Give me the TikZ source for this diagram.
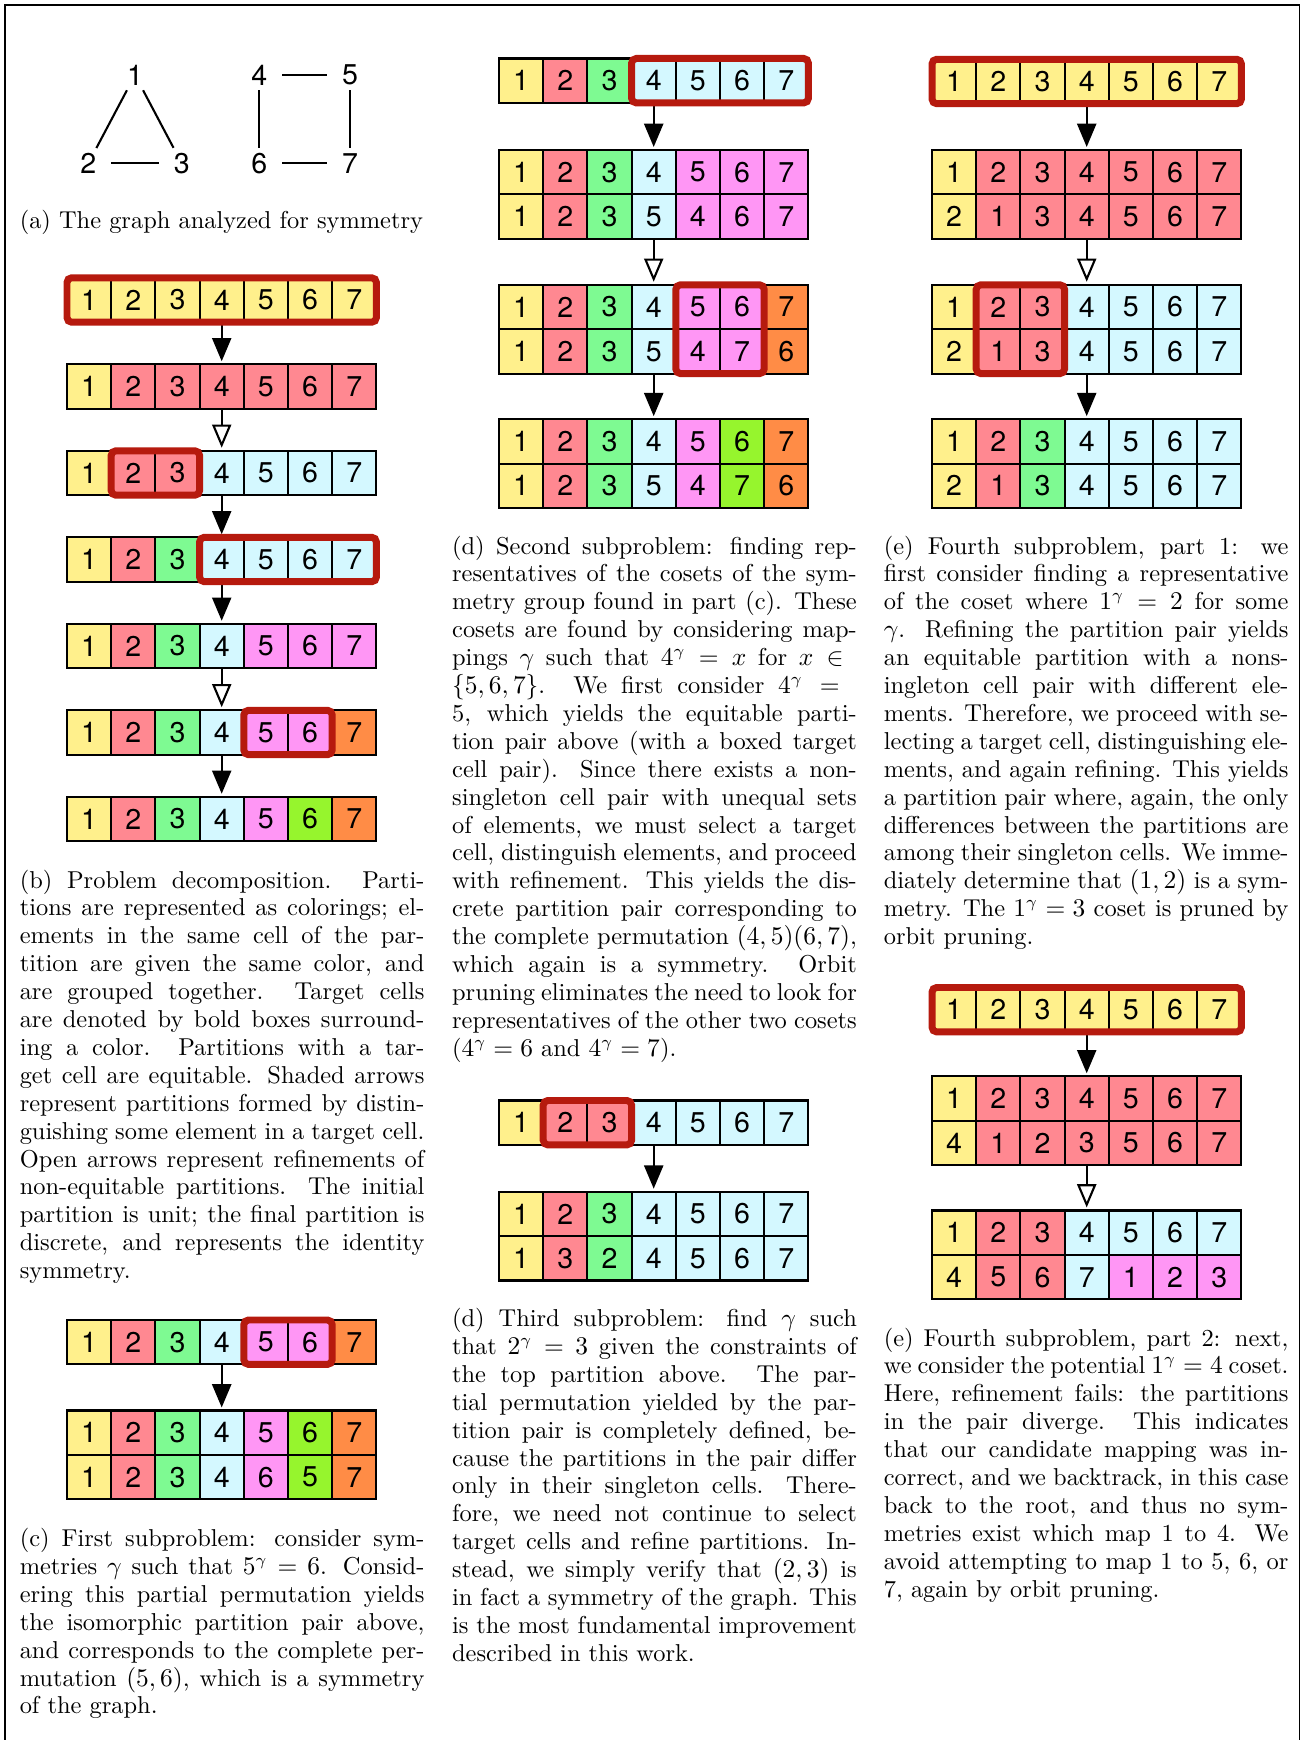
\documentclass[tikz,border=0pt]{standalone}
\usepackage{fontspec}
\newfontfamily\cellfont{TeX Gyre Heros}
\usetikzlibrary{arrows.meta,calc}
\definecolor{CellY}{RGB}{255,240,140}
\definecolor{CellR}{RGB}{255,136,145}
\definecolor{CellG}{RGB}{126,250,146}
\definecolor{CellC}{RGB}{212,248,255}
\definecolor{CellP}{RGB}{255,150,245}
\definecolor{CellL}{RGB}{150,245,45}
\definecolor{CellO}{RGB}{255,140,70}
\definecolor{TargetRed}{RGB}{182,26,14}
\tikzset{
  pcell/.style={draw,line width=0.9pt,minimum width=19pt,minimum height=19.1pt,
    inner sep=0pt,outer sep=0pt,font=\cellfont\fontsize{12.3}{12.3}\selectfont},
  vert/.style={inner xsep=6.5pt,inner ysep=2.2pt,outer sep=0pt,
    font=\cellfont\fontsize{12.3}{12.3}\selectfont},
  gedge/.style={line width=0.9pt},
  distflow/.style={-{Triangle[length=10pt,width=8.2pt]},line width=0.9pt,shorten >=1.3pt},
  refflow/.style={-{Triangle[open,length=10pt,width=8.2pt]},line width=0.9pt,shorten >=1.3pt},
  redframe/.style={draw=TargetRed,line width=3pt,rounded corners=2pt},
  capt/.style={anchor=base west,text width=174pt,align=justify,inner sep=0pt,
    font=\fontsize{10.5}{12}\selectfont}
}
% one partition row: name, left x, top y, colour/label list
\newcommand{\cellrow}[4]{%
  \foreach [count=\i] \col/\lab in {#4}
    \node[pcell,fill=Cell\col] (#1-\i) at ({#2+(\i-0.5)*44.2},{#3+22.2}) {\lab};
}
\newcommand{\boxcells}[2]{\draw[redframe] (#1.north west) rectangle (#2.south east);}

\begin{document}
\begin{tikzpicture}[x=0.43pt,y=-0.43pt]
  \useasboundingbox (0,0) rectangle (1303,1740);
  \draw[line width=0.5pt] (5,1740) -- (5,5) -- (1299.5,5) -- (1299.5,1740);

  \node[vert] (v1) at (135,75) {1};
  \node[vert] (v2) at (88.3,163.3) {2};
  \node[vert] (v3) at (181.7,163.3) {3};
  \node[vert] (v4) at (259.3,75) {4};
  \node[vert] (v5) at (350,75) {5};
  \node[vert] (v6) at (259.3,163.3) {6};
  \node[vert] (v7) at (350,163.3) {7};
  \draw[gedge] (v1) -- (v2);
  \draw[gedge] (v1) -- (v3);
  \draw[gedge] (v2) -- (v3);
  \draw[gedge] (v4) -- (v5);
  \draw[gedge] (v4) -- (v6);
  \draw[gedge] (v5) -- (v7);
  \draw[gedge] (v6) -- (v7);
  \node[capt] (capa) at (19.3,229) {(a) The graph analyzed for symmetry};

  \cellrow{dec1}{67}{277.8}{Y/1,Y/2,Y/3,Y/4,Y/5,Y/6,Y/7}
  \cellrow{dec2}{67}{364.3}{Y/1,R/2,R/3,R/4,R/5,R/6,R/7}
  \cellrow{dec3}{67}{450.8}{Y/1,R/2,R/3,C/4,C/5,C/6,C/7}
  \cellrow{dec4}{67}{537.3}{Y/1,R/2,G/3,C/4,C/5,C/6,C/7}
  \cellrow{dec5}{67}{623.8}{Y/1,R/2,G/3,C/4,P/5,P/6,P/7}
  \cellrow{dec6}{67}{710.3}{Y/1,R/2,G/3,C/4,P/5,P/6,O/7}
  \cellrow{dec7}{67}{796.8}{Y/1,R/2,G/3,C/4,P/5,L/6,O/7}
  \draw[distflow] (dec1-4) -- (dec2-4);
  \draw[refflow] (dec2-4) -- (dec3-4);
  \draw[distflow] (dec3-4) -- (dec4-4);
  \draw[distflow] (dec4-4) -- (dec5-4);
  \draw[refflow] (dec5-4) -- (dec6-4);
  \draw[distflow] (dec6-4) -- (dec7-4);
  \boxcells{dec1-1}{dec1-7}
  \boxcells{dec3-2}{dec3-3}
  \boxcells{dec4-4}{dec4-7}
  \boxcells{dec6-5}{dec6-6}
  \node[capt] (capb) at (19.3,888) {(b) Problem decomposition. Parti-\linebreak tions are represented as colorings; el-\linebreak ements in the same cell of the par-\linebreak tition are given the same color, and\linebreak are grouped together. Target cells\linebreak are denoted by bold boxes surround-\linebreak ing a color. Partitions with a tar-\linebreak get cell are equitable. Shaded arrows\linebreak represent partitions formed by distin-\linebreak guishing some element in a target cell.\linebreak Open arrows represent refinements of\linebreak non-equitable partitions. The initial\linebreak partition is unit; the final partition is\linebreak discrete, and represents the identity\linebreak symmetry.};

  \cellrow{fst1}{67}{1320}{Y/1,R/2,G/3,C/4,P/5,P/6,O/7}
  \cellrow{fst2a}{67}{1410.5}{Y/1,R/2,G/3,C/4,P/5,L/6,O/7}
  \cellrow{fst2b}{67}{1454.9}{Y/1,R/2,G/3,C/4,P/6,L/5,O/7}
  \draw[distflow] (fst1-4) -- (fst2a-4);
  \boxcells{fst1-5}{fst1-6}
  \node[capt] (capc) at (19.3,1546.5) {(c) First subproblem: consider sym-\linebreak metries $\gamma$ such that $5^\gamma = 6$. Consid-\linebreak ering this partial permutation yields\linebreak the isomorphic partition pair above,\linebreak and corresponds to the complete per-\linebreak mutation $(5,6)$, which is a symmetry\linebreak of the graph.};

  \cellrow{snd1}{499}{58.5}{Y/1,R/2,G/3,C/4,C/5,C/6,C/7}
  \cellrow{snd2a}{499}{150}{Y/1,R/2,G/3,C/4,P/5,P/6,P/7}
  \cellrow{snd2b}{499}{194.4}{Y/1,R/2,G/3,C/5,P/4,P/6,P/7}
  \cellrow{snd3a}{499}{284.8}{Y/1,R/2,G/3,C/4,P/5,P/6,O/7}
  \cellrow{snd3b}{499}{329.2}{Y/1,R/2,G/3,C/5,P/4,P/7,O/6}
  \cellrow{snd4a}{499}{419.2}{Y/1,R/2,G/3,C/4,P/5,L/6,O/7}
  \cellrow{snd4b}{499}{463.6}{Y/1,R/2,G/3,C/5,P/4,L/7,O/6}
  \draw[distflow] (snd1-4) -- (snd2a-4);
  \draw[refflow] (snd2b-4) -- (snd3a-4);
  \draw[distflow] (snd3b-4) -- (snd4a-4);
  \boxcells{snd1-4}{snd1-7}
  \boxcells{snd3a-5}{snd3b-6}
  \node[capt] (capd) at (451.7,554) {(d) Second subproblem: finding rep-\linebreak resentatives of the cosets of the sym-\linebreak metry group found in part (c). These\linebreak cosets are found by considering map-\linebreak pings $\gamma$ such that $4^\gamma = x$ for $x \in{}$\linebreak $\{5,6,7\}$. We first consider $4^\gamma ={}$\linebreak 5, which yields the equitable parti-\linebreak tion pair above (with a boxed target\linebreak cell pair). Since there exists a non-\linebreak singleton cell pair with unequal sets\linebreak of elements, we must select a target\linebreak cell, distinguish elements, and proceed\linebreak with refinement. This yields the dis-\linebreak crete partition pair corresponding to\linebreak the complete permutation $(4,5)(6,7)$,\linebreak which again is a symmetry. Orbit\linebreak pruning eliminates the need to look for\linebreak representatives of the other two cosets\linebreak ($4^\gamma = 6$ and $4^\gamma = 7$).};

  \cellrow{thd1}{499}{1100.5}{Y/1,R/2,R/3,C/4,C/5,C/6,C/7}
  \cellrow{thd2a}{499}{1191.7}{Y/1,R/2,G/3,C/4,C/5,C/6,C/7}
  \cellrow{thd2b}{499}{1236.1}{Y/1,R/3,G/2,C/4,C/5,C/6,C/7}
  \draw[distflow] (thd1-4) -- (thd2a-4);
  \boxcells{thd1-2}{thd1-3}
  \node[capt] (capt3) at (451.7,1326.5) {(d) Third subproblem: find $\gamma$ such\linebreak that $2^\gamma = 3$ given the constraints of\linebreak the top partition above. The par-\linebreak tial permutation yielded by the par-\linebreak tition pair is completely defined, be-\linebreak cause the partitions in the pair differ\linebreak only in their singleton cells. There-\linebreak fore, we need not continue to select\linebreak target cells and refine partitions. In-\linebreak stead, we simply verify that $(2,3)$ is\linebreak in fact a symmetry of the graph. This\linebreak is the most fundamental improvement\linebreak described in this work.};

  \cellrow{fa1}{932}{59.3}{Y/1,Y/2,Y/3,Y/4,Y/5,Y/6,Y/7}
  \cellrow{fa2a}{932}{150}{Y/1,R/2,R/3,R/4,R/5,R/6,R/7}
  \cellrow{fa2b}{932}{194.4}{Y/2,R/1,R/3,R/4,R/5,R/6,R/7}
  \cellrow{fa3a}{932}{284.8}{Y/1,R/2,R/3,C/4,C/5,C/6,C/7}
  \cellrow{fa3b}{932}{329.2}{Y/2,R/1,R/3,C/4,C/5,C/6,C/7}
  \cellrow{fa4a}{932}{419.2}{Y/1,R/2,G/3,C/4,C/5,C/6,C/7}
  \cellrow{fa4b}{932}{463.6}{Y/2,R/1,G/3,C/4,C/5,C/6,C/7}
  \draw[distflow] (fa1-4) -- (fa2a-4);
  \draw[refflow] (fa2b-4) -- (fa3a-4);
  \draw[distflow] (fa3b-4) -- (fa4a-4);
  \boxcells{fa1-1}{fa1-7}
  \boxcells{fa3a-2}{fa3b-3}
  \node[capt] (cape) at (883.4,554) {(e) Fourth subproblem, part 1: we\linebreak first consider finding a representative\linebreak of the coset where $1^\gamma = 2$ for some\linebreak $\gamma$. Refining the partition pair yields\linebreak an equitable partition with a nons-\linebreak ingleton cell pair with different ele-\linebreak ments. Therefore, we proceed with se-\linebreak lecting a target cell, distinguishing ele-\linebreak ments, and again refining. This yields\linebreak a partition pair where, again, the only\linebreak differences between the partitions are\linebreak among their singleton cells. We imme-\linebreak diately determine that $(1,2)$ is a sym-\linebreak metry. The $1^\gamma = 3$ coset is pruned by\linebreak orbit pruning.};

  \cellrow{fb1}{932}{987.5}{Y/1,Y/2,Y/3,Y/4,Y/5,Y/6,Y/7}
  \cellrow{fb2a}{932}{1076.3}{Y/1,R/2,R/3,R/4,R/5,R/6,R/7}
  \cellrow{fb2b}{932}{1120.7}{Y/4,R/1,R/2,R/3,R/5,R/6,R/7}
  \cellrow{fb3a}{932}{1210.5}{Y/1,R/2,R/3,C/4,C/5,C/6,C/7}
  \cellrow{fb3b}{932}{1254.9}{Y/4,R/5,R/6,C/7,P/1,P/2,P/3}
  \draw[distflow] (fb1-4) -- (fb2a-4);
  \draw[refflow] (fb2b-4) -- (fb3a-4);
  \boxcells{fb1-1}{fb1-7}
  \node[capt] (capf) at (883.4,1346) {(e) Fourth subproblem, part 2: next,\linebreak we consider the potential $1^\gamma = 4$ coset.\linebreak Here, refinement fails: the partitions\linebreak in the pair diverge. This indicates\linebreak that our candidate mapping was in-\linebreak correct, and we backtrack, in this case\linebreak back to the root, and thus no sym-\linebreak metries exist which map 1 to 4. We\linebreak avoid attempting to map 1 to 5, 6, or\linebreak 7, again by orbit pruning.};
\end{tikzpicture}
\end{document}
